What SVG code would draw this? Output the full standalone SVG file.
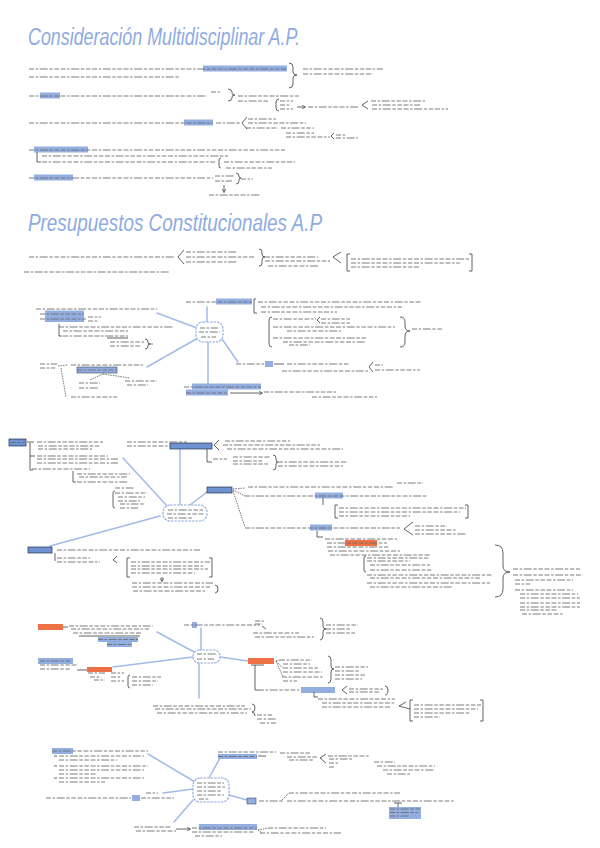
<svg xmlns="http://www.w3.org/2000/svg" width="600" height="848" viewBox="0 0 600 848">
<style>
.t{stroke:#6e6e6e;stroke-width:.9;fill:none;stroke-dasharray:5 1.6 2.5 1.6 8 1.6 3.5 1.6 4.5 1.6}
.hb{fill:#93afe2}
.hd{fill:#6f92d2;stroke:#26324d;stroke-width:.7}
.ho{fill:#ef7146}
.c{stroke:#a2bbe9;stroke-width:1.5;fill:none;stroke-linecap:round}
.cl{fill:#fff;stroke:#8ea9de;stroke-width:1.1;stroke-dasharray:2.5 1}
.b{stroke:#3c3c3c;stroke-width:.8;fill:none}
.d{stroke:#3c3c3c;stroke-width:.7;fill:none;stroke-dasharray:1.5 1}
.title{font-family:"Liberation Sans","DejaVu Sans",sans-serif;font-style:italic;fill:#8eabe2;font-size:23px}
</style>
<defs>
<marker id="ah" viewBox="0 0 6 6" refX="5" refY="3" markerWidth="5" markerHeight="5" orient="auto"><path d="M0 0L6 3L0 6" fill="none" stroke="#3c3c3c" stroke-width="1"/></marker>
</defs>
<rect width="600" height="848" fill="#fff"/>

<!-- Section 1 -->
<g id="intro1">
<text class="title" x="28" y="45" textLength="272" lengthAdjust="spacingAndGlyphs">Consideración Multidisciplinar A.P.</text>
<rect class="hb" x="203" y="65.5" width="84" height="6"/>
<path class="t" d="M29 69H287M29 77H180"/>
<path class="b" d="M289 63q4 0 4 4V72q0 3 4 3q-4 0 -4 3V84q0 4 -4 4"/>
<path class="t" d="M303 69H383M303 74H373"/>
<rect class="hb" x="40" y="92.5" width="20" height="6"/>
<path class="t" d="M29 96H207M211 92H222M238 96H299M238 101H268M280 101H293M280 105H291M280 109H293M308 107H358M371 101H425M372 105H420M372 109H448"/>
<path class="b" d="M228 89q4 0 4 3V93q0 2 3 2q-3 0 -3 2V98q0 3 -4 3M279 99q-3 0 -3 3v6q0 3 3 3M368 101L362 105L368 109"/>
<path class="b" d="M297 107H305" marker-end="url(#ah)"/>
<rect class="hb" x="184" y="119.5" width="29" height="6"/>
<path class="t" d="M29 123H213M216 123H240M248 119H276M248 123H306M246 128H278M281 128H314M286 133H314M286 137H330M336 135H347M336 138H358"/>
<path class="b" d="M247 117L242 123L247 129M334 133L331 136L334 139"/>
<rect class="hb" x="34" y="146.5" width="54" height="6"/>
<path class="t" d="M29 150H285M42 156H228M42 162H215M224 162H295M226 168H272"/>
<path class="b" d="M37 152V162H41M221 158q-2 0 -2 2v6q0 2 2 2"/>
<rect class="hb" x="34" y="174.5" width="39" height="6"/>
<path class="t" d="M29 178H213M215 176H234M215 181H232M241 179H253M209 195H260"/>
<path class="b" d="M236 173q3 0 3 3v0q0 2 2 2q-2 0 -2 2v1q0 3 -3 3"/>
<path class="b" d="M224 185V192" marker-end="url(#ah)"/>
</g>

<!-- Section 2 -->
<g id="intro2">
<text class="title" x="28" y="231" textLength="294" lengthAdjust="spacingAndGlyphs">Presupuestos Constitucionales A.P</text>
<path class="t" d="M29 257H174M186 252H236M186 257H255M186 262H238M265 257H318M265 261H330M268 266H318M351 259H469M351 263H460M351 267H420M24 272H169"/>
<path class="b" d="M184 250L178 257L184 264M259 249q3 0 3 3V254q0 3 3 3q-3 0 -3 3V263q0 3 -3 3M341 252L333 257L341 263M350 254H347V271H350M469 254H472V271H469"/>
</g>

<!-- Connectors -->
<g id="connectors">
<path class="c" d="M207 322V307M157 313L197 328M147 367L198 338M222 339L238 362M208 342V385"/>
<path class="c" d="M123 458L168 507M180 448V505M190 505L207 492M160 516L50 546"/>
<path class="c" d="M157 632L196 653M201 628V650M113 667L193 657M220 657L248 661M199 663V698"/>
<path class="c" d="M148 754L195 782M163 793L193 789M220 758L209 778M229 795L247 800M193 800L174 822"/>
</g>

<!-- Mind map 1 -->
<g id="pc-center">
<rect class="cl" x="196" y="322" width="27" height="20" rx="7"/>
<path class="t" d="M200 328H218M199 332H220M201 337H216"/>
</g>
<g id="pc-analogias">
<rect class="hb" x="216" y="298.5" width="36" height="6"/>
<path class="t" d="M186 302H252M258 302H421M261 307H402M261 312H337M273 319H316M321 319H350M321 323H350M273 327H395M287 331H341M273 338H366M283 342H366M289 345H310M412 329H442"/>
<path class="b" d="M256 299H254V313H257M272 317q-3 0 -3 3V344q0 3 3 3M320 317L317 320L320 323M400 317q5 0 5 5V326q0 5 5 5q-5 0 -5 5V342q0 5 -5 5"/>
</g>
<g id="pc-left-upper">
<rect class="hb" x="45" y="310.5" width="39" height="6"/>
<rect class="hb" x="45" y="316" width="39" height="6"/>
<path class="t" d="M36 309H157M40 314H84M40 319H86M88 317H101M88 321H99M59 327H174M63 331H128M63 336H128M110 342H144M110 346H140M148 344H153"/>
<path class="b" d="M59 324V336H62M107 338H128M145 339q3 0 3 3v0q0 2 2 2q-2 0 -2 2v0q0 3 -3 3"/>
</g>
<g id="pc-left-lower">
<rect class="hb" x="77" y="367" width="40" height="6" stroke="#26324d" stroke-width=".5"/>
<path class="t" d="M40 364H57M40 368H55M71 365H144M77 370H117M79 383H100M79 388H98M125 381H157M127 385H148M71 397H117"/>
<path class="d" d="M58 366L68 365M103 374L90 380M103 374L130 378M61 368L66 397"/>
</g>
<g id="pc-right-lower">
<rect class="hb" x="265" y="361" width="8" height="6"/>
<path class="t" d="M236 364H264M287 364H349M282 371H368M375 365H383M375 370H420"/>
<path class="b" d="M274 364H284M373 362L369 367L373 372"/>
</g>
<g id="pc-bottom">
<rect class="hb" x="192" y="383.5" width="69" height="6"/>
<rect class="hb" x="186" y="389.5" width="42" height="6"/>
<path class="t" d="M184 387H261M186 393H228M264 392H337M312 397H377"/>
<path class="b" d="M230 393H262" marker-end="url(#ah)"/>
</g>

<!-- Mind map 2 -->
<g id="m2-center">
<rect class="cl" x="163" y="505" width="44" height="16" rx="7"/>
<path class="t" d="M168 510H203M167 514H204M168 518H192"/>
</g>
<g id="m2-sean">
<rect class="hd" x="9" y="439" width="17" height="7"/>
<path class="t" d="M11 442.5H24M37 442H103M38 446H100M38 449H92M37 456H108M37 459H118M37 463H118M32 469H90M77 474H130M79 477H127M77 482H128M115 488H135M115 493H147M118 497H145M118 501H140M120 504H145M120 508H138"/>
<path class="b" d="M27 442H34M30 443V470H33M30 456H35M73 471V482H76M115 491q-2 0 -2 2V506q0 2 2 2"/>
</g>
<g id="m2-top">
<rect class="hd" x="170" y="443" width="42" height="6"/>
<path class="t" d="M127 442H187M127 446H170M225 441H290M223 445H320M227 449H343M213 459H227M233 457H270M233 461H262M233 464H268M278 462H348M278 466H343"/>
<path class="b" d="M219 440L214 445L219 450M207 449V462H212M273 455q3 0 3 3V460q0 2 2 2q-2 0 -2 2V467q0 3 -3 3"/>
</g>
<g id="m2-right">
<rect class="hd" x="207" y="487" width="25" height="6"/>
<path class="d" d="M233 489L245 488M233 490L245 496M233 491L245 527"/>
<rect class="hb" x="315" y="492.5" width="28" height="6"/>
<rect class="hb" x="310" y="524.5" width="22" height="6"/>
<rect class="ho" x="345" y="540" width="32" height="6"/>
<path class="t" d="M248 487H393M397 483H423M245 496H427M339 508H466M339 512H460M339 516H410M245 528H400M415 526H447M415 530H457M415 534H467M325 539H397M327 543H387M327 547H390M328 551H400M330 555H430M367 558H430M367 561H410M370 565H430M370 570H433M367 575H493M370 578H480M367 583H490M370 587H453"/>
<path class="b" d="M323 498V505M338 505H335V518H338M465 505H468V518H465M413 522L404 529L413 535M317 531V537H323M366 556q-2 0 -2 2V570q0 2 2 2"/>
<path class="b" d="M495 545q8 0 8 8V566q0 6 7 6q-7 0 -7 6V589q0 8 -8 8"/>
<path class="t" d="M513 569H580M513 575H583M515 580H573M515 584H530M515 590H573M520 594H578M520 598H580M520 603H580M520 607H580M520 610H557M522 614H563"/>
</g>
<g id="m2-left">
<rect class="hd" x="28" y="547" width="24" height="6"/>
<path class="t" d="M57 550H200M57 558H90M57 562H100M131 562H210M131 566H205M131 569H208M131 573H195M132 583H213M132 587H210M133 591H207"/>
<path class="b" d="M55 553V561M117 556L113 560L117 563M130 558H127V577H130M209 558H212V577H209M215 585q3 0 3 4q0 4 -3 4"/>
<path class="b" d="M162 577V581" marker-end="url(#ah)"/>
</g>

<!-- Mind map 3 -->
<g id="m3-center">
<rect class="cl" x="193" y="650" width="27" height="13" rx="6"/>
<path class="t" d="M197 654H216M197 659H214"/>
</g>
<g id="m3-tl">
<rect class="ho" x="38" y="624" width="25" height="6"/>
<rect class="hb" x="98" y="637" width="40" height="5"/>
<rect class="hb" x="107" y="642" width="25" height="5"/>
<path class="t" d="M69 626H153M71 629H149M73 633H142M98 639.5H138M107 644.5H132"/>
<path class="b" d="M63 627H68M79 636H140"/>
</g>
<g id="m3-top">
<rect class="hb" x="192" y="622" width="5" height="6"/>
<path class="t" d="M184 625H260M255 621H264M255 624H262M253 633H299M255 637H314M326 625H358M326 629H350M326 633H355"/>
<path class="b" d="M262 626L266 629M320 618q3 0 3 4V626q0 3 3 3q-3 0 -3 3V636q0 4 -3 4"/>
</g>
<g id="m3-left">
<rect class="hb" x="38" y="658" width="35" height="6"/>
<rect class="ho" x="87" y="667" width="25" height="5"/>
<path class="t" d="M40 661H70M40 665H77M40 669H71M88 673H105M90 677H101M94 680H105M111 673H124M111 677H121M111 681H124M132 677H161M132 681H158M132 685H153"/>
<path class="b" d="M77 670H87M130 675q-2 0 -2 2V686q0 2 2 2"/>
</g>
<g id="m3-right">
<rect class="ho" x="248" y="658" width="26" height="6"/>
<rect class="hb" x="301" y="687" width="34" height="6"/>
<path class="t" d="M280 660H312M283 664H310M283 668H318M283 672H322M282 677H324M283 681H297M335 667H368M335 671H360M335 675H366M335 679H362M259 690H299M349 689H383M349 692H380M318 699H395M322 703H395M322 707H391M414 705H481M414 709H478M414 713H470M414 717H440"/>
<path class="b" d="M251 665H264M255 665V690H259M347 686L342 690L347 694M385 686q3 0 3 4q0 5 -3 5M314 692V697H318M406 702L399 706L410 709M413 700H410V721H413M480 700H483V721H480"/>
<path class="d" d="M276 661L280 660M276 661L283 668M276 661L283 677"/>
<path class="b" d="M328 656q3 0 3 4V666q0 3 3 3q-3 0 -3 3V679q0 4 -3 4"/>
</g>
<g id="m3-bottom">
<path class="t" d="M153 706H245M155 709H251M157 713H247M257 715H272M257 719H276M260 723H276"/>
<path class="b" d="M252 704q3 0 3 4q0 4 -3 4q3 0 3 4"/>
</g>

<!-- Mind map 4 -->
<g id="m4-center">
<rect class="cl" x="193" y="778" width="36" height="24" rx="7"/>
<path class="t" d="M197 783H224M197 787H225M197 791H222M197 795H224M199 799H210"/>
</g>
<g id="m4-tl">
<rect class="hb" x="52" y="748" width="21" height="6"/>
<path class="t" d="M52 751H148M59 756H144M59 760H117M59 766H148M59 770H144M59 774H96M59 778H144M59 782H105"/>
<path class="b" d="M54 756H57M54 766H57M54 778H57"/>
</g>
<g id="m4-left">
<rect class="hb" x="132" y="795" width="8" height="6"/>
<path class="t" d="M46 798H131M141 798H174M146 793H158"/>
</g>
<g id="m4-top">
<rect class="hb" x="218" y="754" width="39" height="5"/>
<path class="t" d="M218 752H276M218 756.5H257M280 753H310M287 757H318M289 760H314M328 756H370M329 759H352M329 763H339M329 767H335M374 762H395M377 766H435M383 770H435M387 774H410"/>
<path class="b" d="M258 756H266M326 754L320 758L326 763"/>
</g>
<g id="m4-right">
<rect class="hb" x="247" y="798" width="9" height="6" stroke="#26324d" stroke-width=".5"/>
<rect class="hb" x="389" y="807" width="32" height="12"/>
<path class="t" d="M259 801H284M287 801H454M289 793H400M390 809H420M390 812.5H418M390 816H410"/>
<path class="d" d="M282 800L289 793"/>
<path class="b" d="M398 803V807M394 803H402"/>
</g>
<g id="m4-bottom">
<rect class="hb" x="199" y="824" width="58" height="6"/>
<path class="t" d="M134 827H172M136 831H176M192 828H257M192 832H255M195 836H222M268 828H326M260 833H341"/>
<path class="b" d="M176 829H190" marker-end="url(#ah)"/>
<path class="d" d="M258 830L268 828M258 830L262 833"/>
</g>
</svg>
